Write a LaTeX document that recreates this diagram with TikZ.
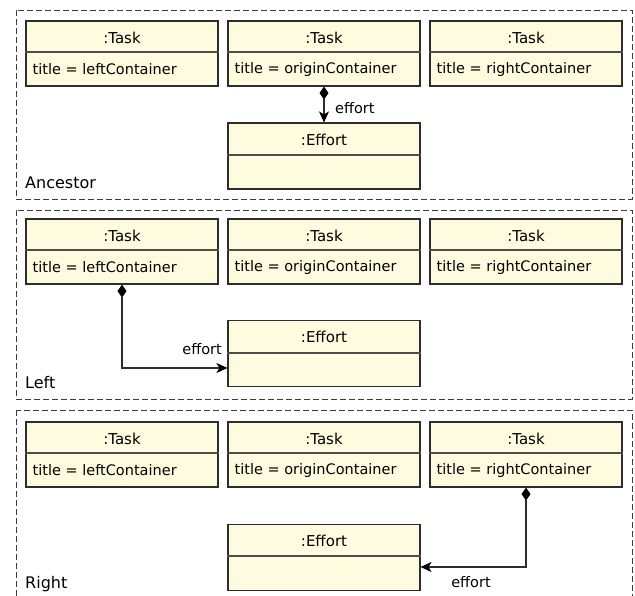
\documentclass[tikz,border=0pt]{standalone}
\usepackage{fontspec}
\setmainfont{DejaVu Sans}
\usetikzlibrary{arrows.meta}
\definecolor{boxfill}{RGB}{254,251,222}
\definecolor{boxline}{RGB}{45,45,45}
\definecolor{panelline}{RGB}{60,60,60}
\tikzset{
  panel/.style={draw=panelline, line width=1pt, dash pattern=on 6pt off 3pt},
  umlbox/.style={draw=boxline, fill=boxfill, line width=1.1pt, rectangle, inner sep=0pt, minimum width=192pt},
  taskbox/.style={umlbox, minimum height=65pt},
  effbox/.style={umlbox, minimum height=66pt},
  divider/.style={draw=boxline!85!white, line width=1.1pt},
  hdr/.style={font=\fontsize{15}{17}\selectfont, inner sep=0pt},
  attr/.style={font=\fontsize{14.5}{16}\selectfont, inner sep=0pt, anchor=west},
  lbl/.style={font=\fontsize{14.5}{16}\selectfont, inner sep=0pt},
  plbl/.style={font=\fontsize{16}{18}\selectfont, inner sep=0pt, anchor=base west},
  comp/.style={draw=boxline, line width=1.1pt, {Diamond[length=13pt,width=9pt,color=black]}-{Stealth[length=11pt,width=10pt,inset=3pt,color=black]}}
}
\begin{document}
\begin{tikzpicture}[x=1pt,y=-1pt]
\useasboundingbox (0,0) rectangle (635,595);
\begin{scope}
\clip (0,0) rectangle (635,595);
% panels
\draw[panel] (16,10) rectangle (632,199);
\draw[panel] (16,210) rectangle (632,399);
\draw[panel] (16,410) rectangle (632,620);
\end{scope}

% ---------- Panel 1: Ancestor ----------
\node[taskbox] (t1a) at (122,53.5) {};
\node[taskbox] (t2a) at (324,53.5) {};
\node[taskbox] (t3a) at (526,53.5) {};
\node[effbox]  (ea)  at (324,156) {};
\foreach \n/\a in {t1a/leftContainer,t2a/originContainer,t3a/rightContainer}{
  \draw[divider] (\n.west |- 0,52) -- (\n.east |- 0,52);
  \node[hdr] at (\n.center |- 0,37.5) {:Task};
  \node[attr] at ([xshift=7pt]\n.west |- 0,69.5) {title = \a};
}
\draw[divider] (ea.west |- 0,155) -- (ea.east |- 0,155);
\node[hdr] (eat) at (ea.center |- 0,139.5) {:Effort};
\draw[comp] (t2a.south) -- (ea.north);
\node[lbl, anchor=west] (la) at (335,108) {effort};
\node[plbl] (pa) at (25,188) {Ancestor};

% ---------- Panel 2: Left ----------
\node[taskbox] (t1b) at (122,251.5) {};
\node[taskbox] (t2b) at (324,251.5) {};
\node[taskbox] (t3b) at (526,251.5) {};
\node[effbox]  (eb)  at (324,353.5) {};
\foreach \n/\a in {t1b/leftContainer,t2b/originContainer,t3b/rightContainer}{
  \draw[divider] (\n.west |- 0,250) -- (\n.east |- 0,250);
  \node[hdr] at (\n.center |- 0,235.5) {:Task};
  \node[attr] at ([xshift=7pt]\n.west |- 0,267.5) {title = \a};
}
\draw[divider] (eb.west |- 0,353) -- (eb.east |- 0,353);
\node[hdr] (ebt) at (eb.center |- 0,337) {:Effort};
\draw[comp] (t1b.south) |- (eb.west |- 0,368);
\node[lbl, anchor=east] (lb) at (222,349) {effort};
\node[plbl] (pb) at (25,388) {Left};

% ---------- Panel 3: Right ----------
\node[taskbox] (t1c) at (122,454.5) {};
\node[taskbox] (t2c) at (324,454.5) {};
\node[taskbox] (t3c) at (526,454.5) {};
\node[effbox]  (ec)  at (324,557.5) {};
\foreach \n/\a in {t1c/leftContainer,t2c/originContainer,t3c/rightContainer}{
  \draw[divider] (\n.west |- 0,453) -- (\n.east |- 0,453);
  \node[hdr] at (\n.center |- 0,438.5) {:Task};
  \node[attr] at ([xshift=7pt]\n.west |- 0,470.5) {title = \a};
}
\draw[divider] (ec.west |- 0,556) -- (ec.east |- 0,556);
\node[hdr] (ect) at (ec.center |- 0,541) {:Effort};
\draw[comp] (t3c.south) |- (ec.east |- 0,567);
\node[lbl] (lc) at (471,582) {effort};
\node[plbl] (pc) at (25,588) {Right};
\end{tikzpicture}
\end{document}
